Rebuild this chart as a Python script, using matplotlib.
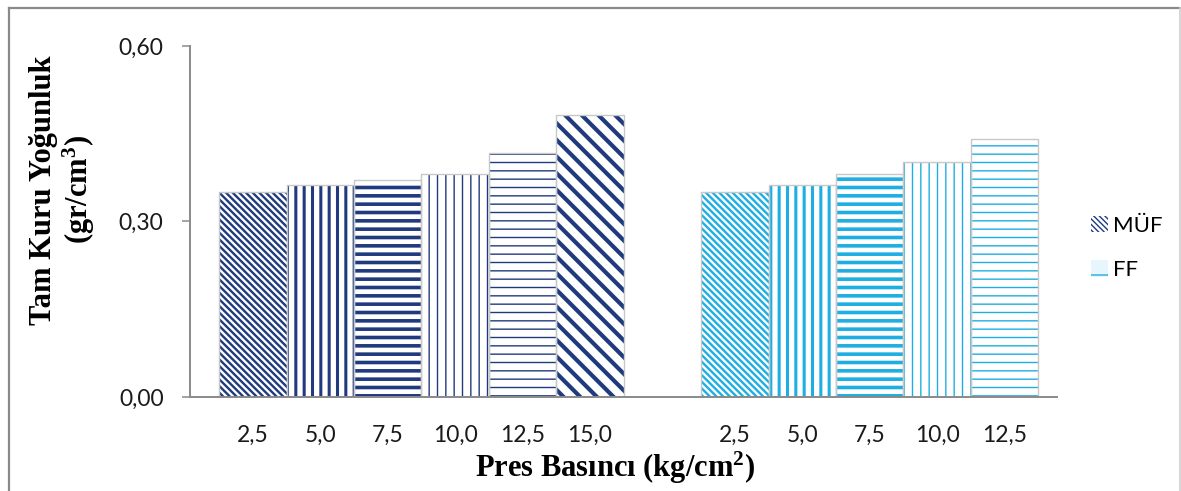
import matplotlib
matplotlib.use("Agg")
import matplotlib.pyplot as plt
from matplotlib.patches import Patch
from matplotlib.lines import Line2D

# pressure levels (kg/cm2) and full dry density (gr/cm3)
pressure_muf = ["2,5", "5,0", "7,5", "10,0", "12,5", "15,0"]
density_muf = [0.350, 0.362, 0.371, 0.381, 0.417, 0.482]
pressure_ff = ["2,5", "5,0", "7,5", "10,0", "12,5"]
density_ff = [0.350, 0.362, 0.381, 0.402, 0.441]

yticks = [0.0, 0.3, 0.6]
ytick_labels = ["0,00", "0,30", "0,60"]

NAVY = "#1f3a7d"
CYAN = "#1eaee2"
GRAY = "#8a8a8a"

# hatch pattern + hatch line width for each bar in a group
STYLES = [("\\" * 5, 1.7), ("||", 2.2), ("--", 2.6), ("||", 1.0), ("--", 1.0), ("\\\\", 3.0)]

plt.rcParams["mathtext.fontset"] = "custom"
plt.rcParams["mathtext.rm"] = "Liberation Serif:bold"
plt.rcParams["mathtext.bf"] = "Liberation Serif:bold"
plt.rcParams["mathtext.it"] = "Liberation Serif:bold"


def hatched_bar(ax, x, h, color, style):
    hatch, lw = style
    with plt.rc_context({"hatch.linewidth": lw}):
        b = ax.bar(x, h, width=1.0, color="white", edgecolor=color,
                   linewidth=0, hatch=hatch, zorder=2)
    for p in b:
        if hasattr(p, "set_hatch_linewidth"):
            p.set_hatch_linewidth(lw)
    ax.bar(x, h, width=1.0, fill=False, edgecolor="#c8c8c8",
           linewidth=1.0, zorder=3)


def main():
    fig = plt.figure(figsize=(11.81, 4.91), dpi=100)
    W, H = 1181, 491
    ax = fig.add_axes([190 / W, (H - 397) / H, (1057 - 190) / W, (397 - 46) / H])

    pos_muf = list(range(len(density_muf)))
    pos_ff = [7.15 + i for i in range(len(density_ff))]

    for i, (x, h) in enumerate(zip(pos_muf, density_muf)):
        hatched_bar(ax, x, h, NAVY, STYLES[i])
    for i, (x, h) in enumerate(zip(pos_ff, density_ff)):
        hatched_bar(ax, x, h, CYAN, STYLES[i])

    ax.set_xlim(-0.935, 11.93)
    ax.set_ylim(0, 0.6)
    ax.set_yticks(yticks)
    ax.set_yticklabels(ytick_labels)
    ax.set_xticks(pos_muf + pos_ff)
    ax.set_xticklabels(pressure_muf + pressure_ff)

    for lab in ax.get_xticklabels() + ax.get_yticklabels():
        lab.set_fontfamily("Lato")
        lab.set_fontsize(16.5)
        lab.set_color("#1a1a1a")

    ax.tick_params(axis="x", length=0, pad=20)
    ax.tick_params(axis="y", length=6, width=1.1, color=GRAY, pad=13)
    for s in ["top", "right"]:
        ax.spines[s].set_visible(False)
    for s in ["left", "bottom"]:
        ax.spines[s].set_color(GRAY)
        ax.spines[s].set_linewidth(1.4)
        ax.spines[s].set_zorder(4)

    serif = {"family": "Liberation Serif", "weight": "bold", "size": 22}
    fig.text(63 / W, 1 - 190 / H, "Tam Kuru Yoğunluk\n(gr/cm$^{3}$)", rotation=90,
             ha="center", va="center", multialignment="center",
             linespacing=1.08, **serif)
    fig.text(615 / W, 1 - 468 / H, "Pres Basıncı (kg/cm$^{2}$)", ha="center",
             va="center", **serif)

    with plt.rc_context({"hatch.linewidth": 2.5}):
        h1 = Patch(facecolor="white", edgecolor=NAVY, hatch="\\" * 6, linewidth=0)
        h2 = Patch(facecolor="#e6f6fc", edgecolor=CYAN, hatch="-", linewidth=0)
    ax.legend([h1, h2], ["MÜF", "FF"], loc="center left",
              bbox_to_anchor=(1080 / W, 1 - 248 / H), bbox_transform=fig.transFigure,
              frameon=False, borderpad=0, handlelength=0.75, handleheight=0.75,
              handletextpad=0.25, labelspacing=1.1,
              prop={"family": "Lato", "size": 16})

    # outer chart border
    fig.add_artist(Line2D([8.5 / W, 8.5 / W], [0, 1 - 7.5 / H], color=GRAY, lw=1.6))
    fig.add_artist(Line2D([8.5 / W, 1179.5 / W], [1 - 7.5 / H, 1 - 7.5 / H], color=GRAY, lw=1.6))
    fig.add_artist(Line2D([1179.5 / W, 1179.5 / W], [0, 1 - 7.5 / H], color="#d0d0d0", lw=1.2))

    fig.savefig("out.png", dpi=100)


if __name__ == "__main__":
    main()
